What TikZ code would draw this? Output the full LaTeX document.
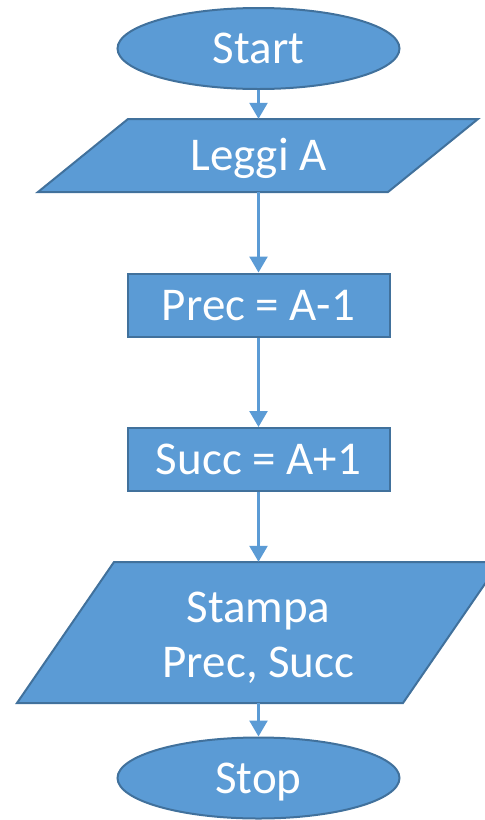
\documentclass[tikz,border=0pt]{standalone}
\usepackage{fontspec}
\setmainfont{Carlito}
\usetikzlibrary{arrows.meta,shapes.geometric}
\definecolor{boxfill}{HTML}{5B9BD5}
\definecolor{boxline}{HTML}{41719C}
\begin{document}
\begin{tikzpicture}[x=1pt,y=-1pt,
  every node/.style={text=white,font=\fontsize{47}{55}\selectfont},
  single/.style={text height=30pt,text depth=0pt},
  term/.style={ellipse,draw=boxline,fill=boxfill,line width=2pt,
    minimum width=282pt,minimum height=81pt,inner sep=0pt,single},
  proc/.style={rectangle,draw=boxline,fill=boxfill,line width=2pt,
    minimum width=262pt,minimum height=63pt,inner sep=0pt,single},
  io/.style={draw=boxline,fill=boxfill,line width=2pt,line join=miter},
  iolabel/.style={inner sep=0pt,align=center},
  flow/.style={draw=boxfill,line width=2.5pt,-{Triangle[width=18pt,length=16pt]}}]
\useasboundingbox (0,0) rectangle (485,820);
\clip (0,0) rectangle (485,820);

% input / output parallelograms
\draw[io] (128,119) -- (478,119) -- (388,192) -- (38,192) -- cycle;
\draw[io] (114,562) -- (500,562) -- (403,703) -- (17,703) -- cycle;

% blocks
\node[term] (start) at (258.5,48.5) {Start};
\node[iolabel,single,minimum height=73pt] (leggi) at (258.5,155.5) {Leggi A};
\node[proc] (prec) at (258.5,305) {Prec = A-1};
\node[proc] (succ) at (258.5,459.5) {Succ = A+1};
\node[iolabel,minimum height=141pt] (stampa) at (258.5,632.5) {};
\node[iolabel,yshift=-5pt] (stampatxt) at (stampa.center) {Stampa\\Prec, Succ};
\node[term] (stop) at (258.5,778) {Stop};

% flow arrows
\draw[flow] (start.south) -- (leggi.north);
\draw[flow] (leggi.south) -- (prec.north);
\draw[flow] (prec.south) -- (succ.north);
\draw[flow] (succ.south) -- (stampa.north);
\draw[flow] (stampa.south) -- (stop.north);
\end{tikzpicture}
\end{document}
